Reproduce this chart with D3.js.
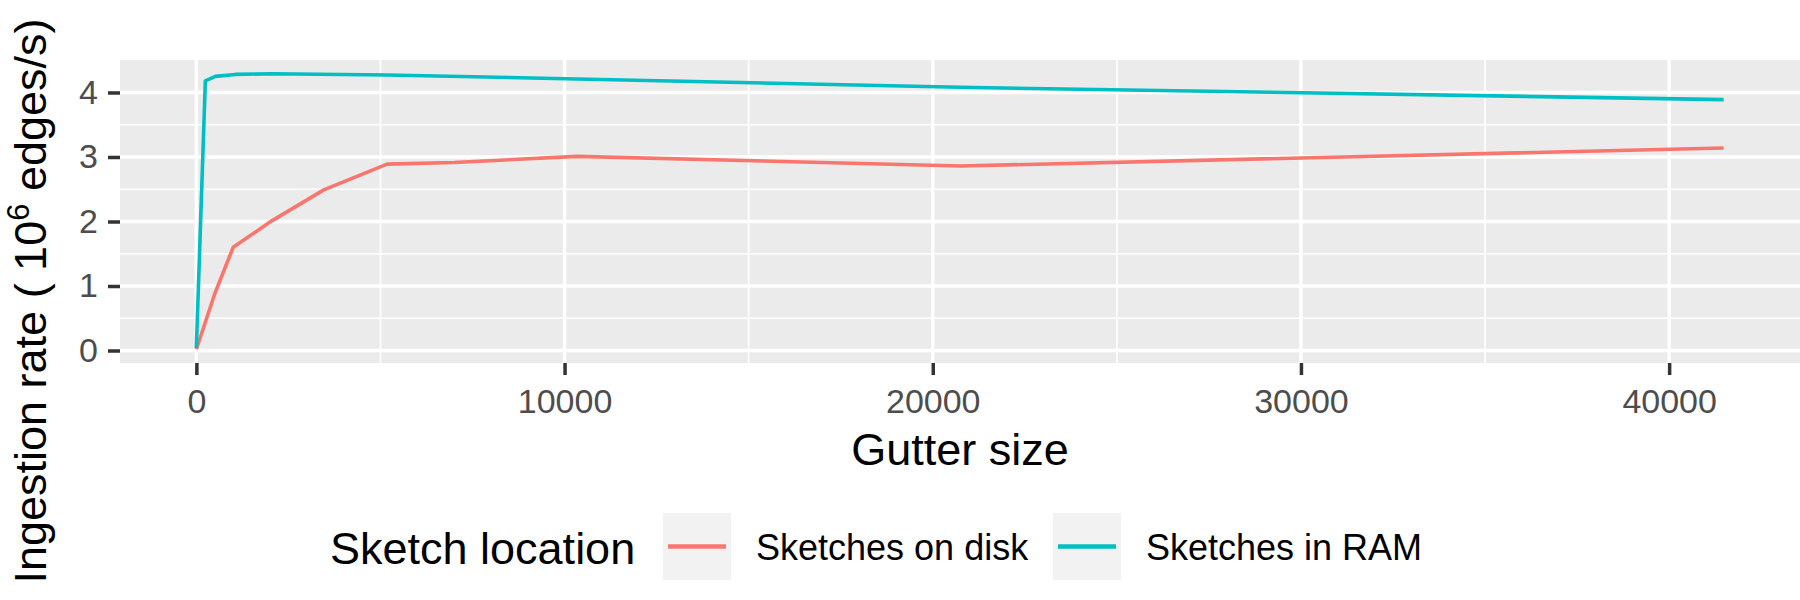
<!DOCTYPE html>
<html>
<head>
<meta charset="utf-8">
<script src="https://cdn.jsdelivr.net/npm/d3@7"></script>
<style>
  body { margin: 0; background: #fff; }
  svg { font-family: "Liberation Sans", Arial, Helvetica, sans-serif; }
</style>
</head>
<body>
<div id="chart"></div>
<script>
// Gutter size vs ingestion rate
const diskGutter = [0, 500, 1000, 2050, 3460, 5180, 7000, 10340, 20750, 41480];
const diskRate = [0.02, 0.88, 1.60, 2.01, 2.49, 2.89, 2.915, 3.01, 2.86, 3.14];
const ramGutter = [0, 244, 516, 1060, 2055, 5180, 10340, 20750, 41480];
const ramRate = [0.04, 4.18, 4.25, 4.28, 4.29, 4.27, 4.21, 4.08, 3.89];

const seriesNames = ["Sketches on disk", "Sketches in RAM"];
const seriesColors = ["#F8766D", "#00BFC4"];

const xMajor = [0, 10000, 20000, 30000, 40000];
const xMinor = [5000, 15000, 25000, 35000];
const yMajor = [0, 1, 2, 3, 4];
const yMinor = [0.5, 1.5, 2.5, 3.5];

const width = 1800, height = 600;
const panel = { left: 120, right: 1800, top: 60, bottom: 363 };

const series = [
    diskGutter.map((g, i) => ({ x: g, y: diskRate[i] })),
    ramGutter.map((g, i) => ({ x: g, y: ramRate[i] }))
];

// ggplot style 5% expansion
function expand(ext) {
    const pad = (ext[1] - ext[0]) * 0.05;
    return [ext[0] - pad, ext[1] + pad];
}

const allPts = series.flat();
const xScale = d3.scaleLinear()
    .domain(expand(d3.extent(allPts, d => d.x)))
    .range([panel.left, panel.right]);
const yScale = d3.scaleLinear()
    .domain(expand(d3.extent(allPts, d => d.y)))
    .range([panel.bottom, panel.top]);

const svg = d3.select("#chart")
    .append("svg")
    .attr("width", width)
    .attr("height", height);

// panel background
svg.append("rect")
    .attr("x", panel.left)
    .attr("y", panel.top)
    .attr("width", panel.right - panel.left)
    .attr("height", panel.bottom - panel.top)
    .attr("fill", "#EBEBEB");

// grid lines
const grid = svg.append("g");
grid.selectAll(".xminor").data(xMinor).enter().append("line")
    .attr("x1", d => xScale(d)).attr("x2", d => xScale(d))
    .attr("y1", panel.top).attr("y2", panel.bottom)
    .attr("stroke", "#fff").attr("stroke-width", 1.7);
grid.selectAll(".yminor").data(yMinor).enter().append("line")
    .attr("x1", panel.left).attr("x2", panel.right)
    .attr("y1", d => yScale(d)).attr("y2", d => yScale(d))
    .attr("stroke", "#fff").attr("stroke-width", 1.7);
grid.selectAll(".xmajor").data(xMajor).enter().append("line")
    .attr("x1", d => xScale(d)).attr("x2", d => xScale(d))
    .attr("y1", panel.top).attr("y2", panel.bottom)
    .attr("stroke", "#fff").attr("stroke-width", 3.4);
grid.selectAll(".ymajor").data(yMajor).enter().append("line")
    .attr("x1", panel.left).attr("x2", panel.right)
    .attr("y1", d => yScale(d)).attr("y2", d => yScale(d))
    .attr("stroke", "#fff").attr("stroke-width", 3.4);

// lines
const line = d3.line()
    .x(d => xScale(d.x))
    .y(d => yScale(d.y));

series.forEach((s, i) => {
    svg.append("path")
        .datum(s)
        .attr("fill", "none")
        .attr("stroke", seriesColors[i])
        .attr("stroke-width", 3.6)
        .attr("stroke-linejoin", "round")
        .attr("d", line);
});

// axes
const xAxis = svg.append("g")
    .attr("transform", `translate(0,${panel.bottom})`)
    .call(d3.axisBottom(xScale).tickValues(xMajor).tickFormat(d3.format("d"))
        .tickSize(12).tickPadding(14));
const yAxis = svg.append("g")
    .attr("transform", `translate(${panel.left},0)`)
    .call(d3.axisLeft(yScale).tickValues(yMajor).tickFormat(d3.format("d"))
        .tickSize(12).tickPadding(10));

[xAxis, yAxis].forEach(ax => {
    ax.select(".domain").remove();
    ax.selectAll(".tick line").attr("stroke", "#333333").attr("stroke-width", 3.5);
    ax.selectAll(".tick text")
        .attr("fill", "#4D4D4D")
        .style("font-size", "34px")
        .style("font-family", "'Liberation Sans', Arial, sans-serif");
});

// axis titles
svg.append("text")
    .attr("x", (panel.left + panel.right) / 2)
    .attr("y", 465)
    .attr("text-anchor", "middle")
    .style("font-size", "45px")
    .text("Gutter size");

const yTitle = svg.append("text")
    .attr("transform", "translate(46,301) rotate(-90)")
    .attr("text-anchor", "middle")
    .style("font-size", "45px");
yTitle.append("tspan").text("Ingestion rate ( 10");
yTitle.append("tspan")
    .attr("baseline-shift", "super")
    .style("font-size", "31px")
    .text("6");
yTitle.append("tspan").text(" edges/s)");

// legend
const legend = svg.append("g");
legend.append("text")
    .attr("x", 330)
    .attr("y", 564)
    .style("font-size", "45px")
    .text("Sketch location");

const keyX = [663, 1053];
seriesNames.forEach((name, i) => {
    const g = legend.append("g").attr("transform", `translate(${keyX[i]},513)`);
    g.append("rect")
        .attr("width", 68)
        .attr("height", 67)
        .attr("fill", "#F2F2F2");
    g.append("line")
        .attr("x1", 5).attr("x2", 63)
        .attr("y1", 33.5).attr("y2", 33.5)
        .attr("stroke", seriesColors[i])
        .attr("stroke-width", 4.5);
    g.append("text")
        .attr("x", 93)
        .attr("y", 47)
        .style("font-size", "36px")
        .text(name);
});
</script>
</body>
</html>
